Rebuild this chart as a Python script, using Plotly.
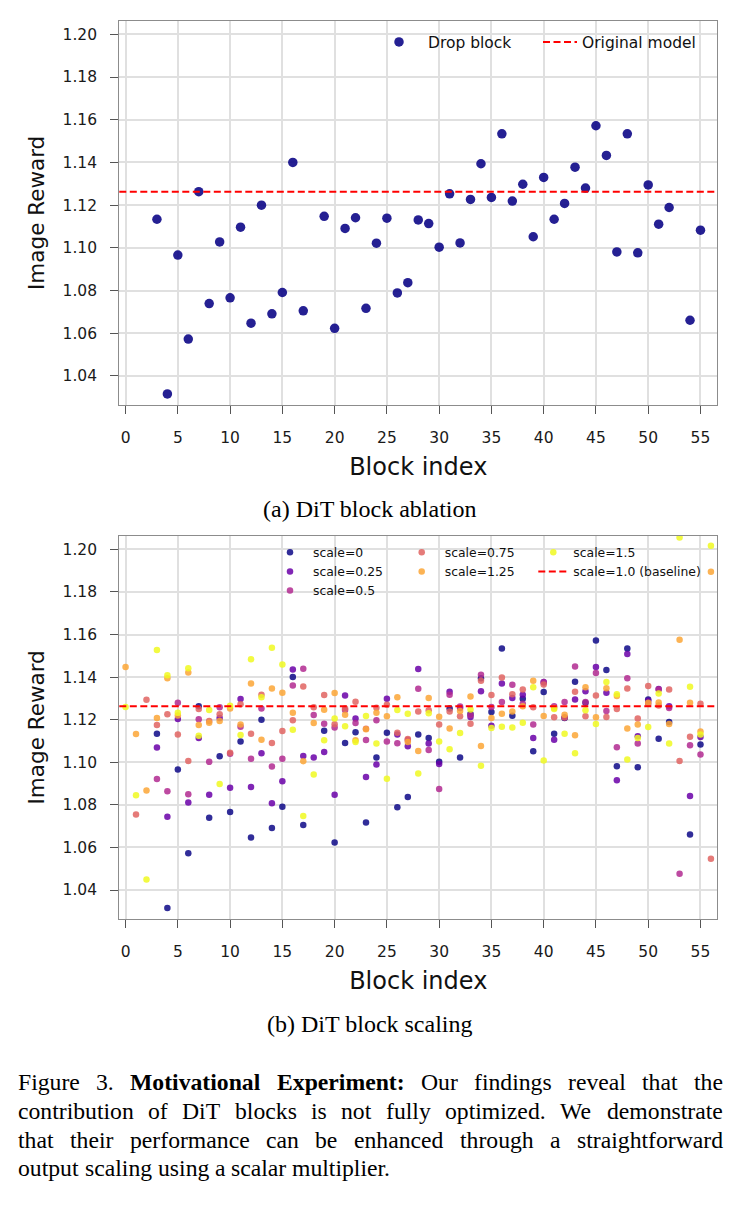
import plotly.graph_objects as go

# ---------------- data ----------------
block_index = list(range(57))

drop_block = [None, None, None, 1.1134, 1.0316, 1.0966, 1.0573, 1.1263, 1.0739, 1.1028,
              1.0766, 1.1097, 1.0647, 1.1200, 1.0691, 1.0791, 1.1400, 1.0705, None, 1.1148,
              1.0623, 1.1091, 1.1141, 1.0717, 1.1022, 1.1139, 1.0789, 1.0837, 1.1131, 1.1114,
              1.1003, 1.1253, 1.1023, 1.1227, 1.1394, 1.1236, 1.1534, 1.1219, 1.1298, 1.1052,
              1.1330, 1.1134, 1.1208, 1.1378, 1.1280, 1.1572, 1.1433, 1.0981, 1.1534, 1.0977,
              1.1295, 1.1111, 1.1189, None, 1.0661, 1.1083, None]

scale_0 = drop_block  # scale=0 is the same as dropping the block

scale_025 = [None, None, None, 1.1069, 1.0744, 1.1203, 1.0811, 1.1114, 1.0848, 1.1208,
             1.0880, 1.1297, 1.0884, 1.1042, 1.0808, 1.0911, 1.1436, 1.1030, 1.1023, 1.1048,
             1.0848, 1.1314, 1.1206, 1.0931, 1.0989, 1.1298, 1.1130, 1.1075, 1.1438, 1.1088,
             1.0992, 1.1331, 1.1255, 1.1213, 1.1333, 1.1172, 1.1370, 1.1302, 1.1317, 1.1114,
             1.1377, 1.1106, 1.1210, 1.1295, 1.1333, 1.1447, 1.1327, 1.0916, 1.1509, 1.1122,
             1.1289, 1.1344, 1.1263, None, 1.0842, 1.1119, None]

scale_05 = [None, None, None, 1.0922, 1.0864, 1.1280, 1.0850, 1.1202, 1.1002, 1.1258,
            1.1040, 1.1167, 1.1016, 1.1253, 1.0980, 1.1017, 1.1361, 1.1439, 1.1222, 1.1181,
            1.1163, 1.1246, 1.1184, 1.1105, 1.1197, 1.1097, 1.1089, 1.1105, 1.1345, 1.1058,
            1.0875, 1.1317, 1.1262, 1.1222, 1.1411, 1.1259, 1.1283, 1.1364, 1.1275, 1.1177,
            1.1375, 1.1263, 1.1283, 1.1450, 1.1283, 1.1419, 1.1241, 1.1070, 1.1394, 1.1088,
            1.1275, 1.1342, 1.1255, 1.0477, 1.1080, 1.1037, None]

scale_075 = [None, 1.0755, 1.1294, 1.1175, 1.1225, 1.1131, 1.1006, 1.1250, 1.1194, 1.1225,
             1.1045, 1.1273, 1.1134, 1.1317, 1.1091, 1.1147, 1.1197, 1.1356, 1.1258, 1.1316,
             1.1178, 1.1253, 1.1284, 1.1158, 1.1256, 1.1270, 1.1139, 1.1109, 1.1238, 1.1244,
             1.1177, 1.1238, 1.1216, 1.1181, 1.1383, 1.1316, 1.1398, 1.1320, 1.1342, 1.1258,
             1.1365, 1.1211, 1.1210, 1.1331, 1.1216, 1.1314, 1.1213, 1.1250, 1.1347, 1.1205,
             1.1358, 1.1267, 1.1342, 1.1006, 1.1120, 1.1275, 1.0547]

scale_125 = [1.1447, 1.1133, 1.0867, 1.1208, 1.1394, 1.1220, 1.1422, 1.1175, 1.1186, 1.1194,
             1.1253, 1.1177, 1.1370, 1.1106, 1.1347, 1.1327, 1.1233, 1.1005, 1.1184, 1.1247,
             1.1325, 1.1223, 1.1103, 1.1155, 1.1233, 1.1216, 1.1305, 1.1095, 1.1053, 1.1302,
             1.1214, 1.1159, 1.1241, 1.1309, 1.1077, 1.1208, 1.1228, 1.1239, 1.1263, 1.1383,
             1.1217, 1.1255, 1.1223, 1.1127, 1.1352, 1.1211, 1.1348, 1.1311, 1.1159, 1.1177,
             1.1280, 1.1281, 1.1180, 1.1575, 1.1280, 1.1144, 1.1895]

scale_15 = [1.1259, 1.0845, 1.0450, 1.1527, 1.1409, 1.1233, 1.1442, 1.1125, 1.1245, 1.0898,
            1.1266, 1.1128, 1.1484, 1.1305, 1.1538, 1.1459, 1.1153, 1.0748, 1.0942, 1.1103,
            1.1206, 1.1169, 1.1095, 1.1217, 1.1088, 1.0923, 1.1245, 1.1228, 1.0947, 1.1230,
            1.1098, 1.1061, 1.1138, 1.1248, 1.0984, 1.1161, 1.1167, 1.1163, 1.1186, 1.1352,
            1.1008, 1.1250, 1.1134, 1.1042, 1.1244, 1.1180, 1.1377, 1.1320, 1.1013, 1.1114,
            1.1166, 1.1323, 1.1088, 1.2055, 1.1355, 1.1131, 1.2017]

baseline = 1.1263

scale_names = ["scale=0", "scale=0.25", "scale=0.5", "scale=0.75", "scale=1.25", "scale=1.5"]
scale_values = [scale_0, scale_025, scale_05, scale_075, scale_125, scale_15]
scale_colors = ["#0d0887", "#6a00a8", "#b12a90", "#e16462", "#fca636", "#f0f921"]
scale_legends = ["legend2", "legend2", "legend2", "legend3", "legend3", "legend4"]

x_ticks = list(range(0, 56, 5))
y_ticks = [1.04, 1.06, 1.08, 1.10, 1.12, 1.14, 1.16, 1.18, 1.20]
x_range = [-0.6, 56.6]
y_range = [1.0264, 1.2064]

subcaption_a = "(a) DiT block ablation"
subcaption_b = "(b) DiT block scaling"
caption_lines = [
    [("Figure", False), ("3.", False), ("Motivational", True), ("Experiment:", True),
     ("Our", False), ("findings", False), ("reveal", False), ("that", False), ("the", False)],
    [(w, False) for w in "contribution of DiT blocks is not fully optimized. We demonstrate".split()],
    [(w, False) for w in "that their performance can be enhanced through a straightforward".split()],
    [(w, False) for w in "output scaling using a scalar multiplier.".split()],
]

# ---------------- figure ----------------
W, H = 740, 1214
fig = go.Figure()

fig.add_trace(go.Scatter(
    x=block_index, y=drop_block, mode="markers", name="Drop block", showlegend=True,
    marker=dict(color="#0d0887", size=9.5, opacity=0.9, line=dict(width=0)),
    xaxis="x", yaxis="y", legend="legend"))

for name, vals, col, leg in zip(scale_names, scale_values, scale_colors, scale_legends):
    fig.add_trace(go.Scatter(
        x=block_index, y=vals, mode="markers", name=name, showlegend=True,
        marker=dict(color=col, size=6.5, opacity=0.85, line=dict(width=0)),
        xaxis="x2", yaxis="y2", legend=leg))

red_line = dict(color="#ff0000", width=2, dash="7px,3.5px")
fig.add_shape(type="line", xref="x domain", yref="y", x0=0, x1=1, y0=baseline, y1=baseline,
              line=red_line, showlegend=True, name="Original model", legend="legend5", layer="above")
fig.add_shape(type="line", xref="x2 domain", yref="y2", x0=0, x1=1, y0=baseline, y1=baseline,
              line=red_line, showlegend=True, name="scale=1.0 (baseline)", legend="legend4", layer="above")

xdom = [119.3 / W, 717.2 / W]
axis_common = dict(
    showline=True, mirror=True, linecolor="#8c8c8c", linewidth=1.3,
    ticks="outside", ticklen=8, tickwidth=1.3, tickcolor="#555555",
    showgrid=True, gridcolor="#e0e0e0", gridwidth=2, zeroline=False,
    tickfont=dict(family="DejaVu Sans", size=15.5, color="#1a1a1a"),
    automargin=False,
)
xcommon = dict(axis_common, range=x_range, tickvals=x_ticks, domain=xdom, ticklabelstandoff=10,
               title=dict(text="Block index", font=dict(family="DejaVu Sans", size=24, color="#111"), standoff=12))
ycommon = dict(axis_common, range=y_range, tickvals=y_ticks, tickformat=".2f", ticklabelstandoff=10,
               title=dict(text="Image Reward", font=dict(family="DejaVu Sans", size=21.5, color="#111"), standoff=12))

fig.update_layout(
    width=W, height=H, template="none", showlegend=True,
    margin=dict(l=0, r=0, t=0, b=0),
    paper_bgcolor="white", plot_bgcolor="white",
    font=dict(family="DejaVu Sans", color="#111"),
    xaxis=dict(xcommon, anchor="y"),
    yaxis=dict(ycommon, anchor="x", domain=[1 - 405 / H, 1 - 20.7 / H]),
    xaxis2=dict(xcommon, anchor="y2"),
    yaxis2=dict(ycommon, anchor="x2", domain=[1 - 919 / H, 1 - 535.7 / H]),
)

leg_common = dict(xanchor="left", yanchor="top", bgcolor="rgba(0,0,0,0)", borderwidth=0,
                  orientation="v", tracegroupgap=0)
top_font = dict(family="DejaVu Sans", size=15.5, color="#111")
bot_font = dict(family="DejaVu Sans", size=12.4, color="#111")
fig.update_layout(
    legend=dict(leg_common, x=370 / W, y=1 - 25.4 / H, font=top_font, itemwidth=48),
    legend5=dict(leg_common, x=538 / W, y=1 - 25.4 / H, font=top_font, itemwidth=34),
    legend2=dict(leg_common, x=267 / W, y=1 - 537.8 / H, font=bot_font, itemwidth=36),
    legend3=dict(leg_common, x=398.7 / W, y=1 - 537.8 / H, font=bot_font, itemwidth=36),
    legend4=dict(leg_common, x=533.3 / W, y=1 - 537.8 / H, font=bot_font, itemwidth=30),
)

serif = "Liberation Serif"
for txt, yc in [(subcaption_a, 509), (subcaption_b, 1024)]:
    fig.add_annotation(text=txt, x=369.5 / W, y=1 - yc / H, xref="paper", yref="paper",
                       xanchor="center", yanchor="middle", showarrow=False,
                       font=dict(family=serif, size=24, color="#000"))

# Justified caption: Times/Liberation Serif advance widths (1/1000 em)
TIMES = dict(zip("abcdefghijklmnopqrstuvwxyz",
                 [444, 500, 444, 500, 444, 333, 500, 500, 278, 278, 500, 278, 778, 500, 500, 500,
                  500, 333, 389, 278, 500, 500, 722, 500, 500, 444]))
TIMES.update(dict(zip("ABCDEFGHIJKLMNOPQRSTUVWXYZ",
                      [722, 667, 667, 722, 611, 556, 722, 722, 333, 389, 722, 611, 889, 722, 722, 556,
                       722, 667, 556, 611, 722, 722, 944, 722, 722, 611])))
TIMES.update({".": 250, ",": 250, ":": 278, "0": 500, "1": 500, "2": 500, "3": 500,
              "4": 500, "5": 500, "6": 500, "7": 500, "8": 500, "9": 500})
TIMES_B = dict(zip("abcdefghijklmnopqrstuvwxyz",
                   [500, 556, 444, 556, 444, 333, 500, 556, 278, 333, 556, 278, 833, 556, 500, 556,
                    556, 444, 389, 333, 556, 500, 722, 500, 500, 444]))
TIMES_B.update(dict(zip("ABCDEFGHIJKLMNOPQRSTUVWXYZ",
                        [722, 667, 722, 722, 667, 611, 778, 778, 389, 500, 778, 667, 944, 722, 778, 611,
                         778, 722, 556, 667, 722, 722, 1000, 722, 722, 667])))
TIMES_B.update({".": 250, ",": 250, ":": 333})

cap_size = 23.7
cap_left, cap_right = 17, 722
cap_y = [1082, 1111, 1140, 1168]


def word_width(word, bold):
    table = TIMES_B if bold else TIMES
    return sum(table.get(c, 500) for c in word) / 1000 * cap_size


for li, (words, yc) in enumerate(zip(caption_lines, cap_y)):
    widths = [word_width(w, b) for w, b in words]
    if li < len(caption_lines) - 1:
        gap = (cap_right - cap_left - sum(widths)) / (len(words) - 1)
    else:
        gap = 0.25 * cap_size
    xpos = cap_left
    for (w, b), ww in zip(words, widths):
        fig.add_annotation(text=f"<b>{w}</b>" if b else w, x=(xpos - 1) / W, y=1 - yc / H,
                           xref="paper", yref="paper", xanchor="left", yanchor="middle",
                           showarrow=False, font=dict(family=serif, size=cap_size, color="#000"))
        xpos += ww + gap

fig.write_html("out.html")
